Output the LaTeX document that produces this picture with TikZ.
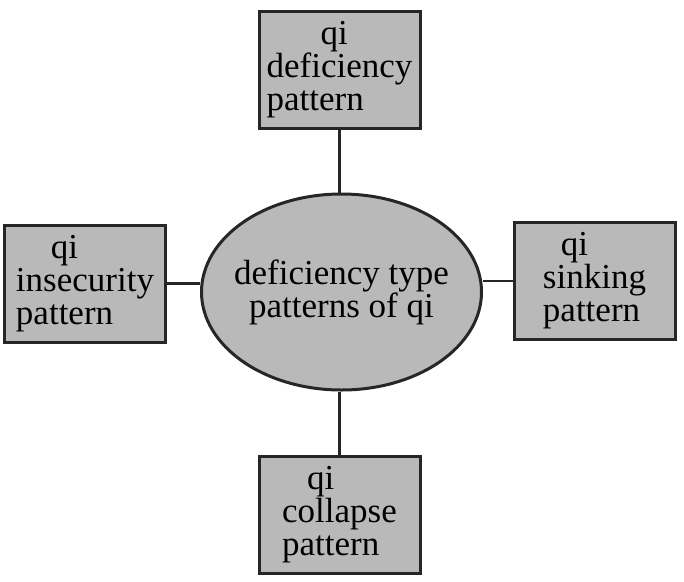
\documentclass[tikz,border=0pt]{standalone}
\usepackage{fontspec}
\setmainfont{Liberation Serif}
\usepackage{xcolor}
\usetikzlibrary{shapes.geometric}

\begin{document}
\begin{tikzpicture}[x=1pt,y=-1pt,
	patbox/.style={draw=black!85,line width=3pt,fill=gray!55,minimum width=161pt,minimum height=117pt,inner sep=0pt,align=left,font=\fontsize{35}{33}\selectfont},
	typebox/.style={ellipse,draw=black!85,line width=3pt,fill=gray!55,minimum width=280pt,minimum height=196pt,inner xsep=-12pt,inner ysep=0pt,align=center,font=\fontsize{35}{33}\selectfont},
	link/.style={line width=2.2pt,draw=black!85}]
\useasboundingbox (0,0) rectangle (684,581);
\node[typebox] (qtype) at (341.5,292) {deficiency type\\patterns of qi};
\node[patbox] (qdef) at (339.5,70) {\hspace*{54pt}qi\\deficiency\\pattern};
\node[patbox] (qins) at (85,283.5) {\hspace*{35pt}qi\\insecurity\\pattern};
\node[patbox] (qsink) at (594.5,281) {\hspace*{18pt}qi\\sinking\\pattern};
\node[patbox] (qcol) at (339.5,515) {\hspace*{25pt}qi\\collapse\\pattern};
%connectors
\draw[link] (qdef.south) -- (qdef.south |- qtype.north);
\draw[link] (qcol.north) -- (qcol.north |- qtype.south);
\draw[link] (qins.east) -- (qins.east -| qtype.west);
\draw[link] (qsink.west) -- (qsink.west -| qtype.east);
\end{tikzpicture}
\end{document}
